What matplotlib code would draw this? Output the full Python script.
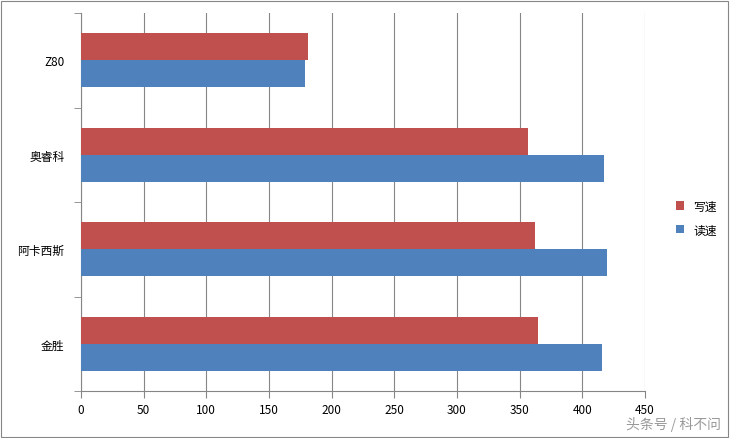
import numpy as np
import matplotlib.pyplot as plt
from matplotlib.patches import Rectangle

plt.rcParams['font.family'] = ['Noto Sans CJK SC', 'DejaVu Sans']

categories = ['金胜', '阿卡西斯', '奥睿科', 'Z80']
write_speed = [365, 362, 357, 181]
read_speed = [416, 420, 417, 179]

fig = plt.figure(figsize=(7.30, 4.39), dpi=100)
ax = fig.add_axes([81 / 730, 1 - 392 / 439, 564 / 730, 378 / 439])

y = np.arange(len(categories))
h = 0.285
ax.barh(y + h / 2, write_speed, height=h, color='#C0504D', label='写速', zorder=3)
ax.barh(y - h / 2, read_speed, height=h, color='#4F81BD', label='读速', zorder=3)

ax.set_xlim(0, 450)
ax.set_ylim(-0.5, len(categories) - 0.5)
ax.set_xticks(np.arange(0, 451, 50))
ax.set_yticks(y)
ax.set_yticklabels(categories)
ax.grid(axis='x', color='#868686', linewidth=0.8, zorder=0)
for s in ['top', 'right']:
    ax.spines[s].set_visible(False)
for s in ['left', 'bottom']:
    ax.spines[s].set_color('#868686')
ax.tick_params(axis='x', direction='out', length=5, color='#868686', labelsize=8.5)
ax.tick_params(axis='y', length=0, labelsize=8.5, pad=12)
ax.set_yticks(np.arange(-0.5, len(categories), 1), minor=True)
ax.tick_params(axis='y', which='minor', direction='out', length=5, color='#868686')

handles, labels = ax.get_legend_handles_labels()
fig.legend(handles, labels, loc='center left', bbox_to_anchor=(670 / 730, 1 - 219 / 439),
           frameon=False, fontsize=8.5, handlelength=0.7, handleheight=0.7, borderpad=0, labelspacing=0.9)

fig.patches.append(Rectangle((0.002, 0.003), 0.995, 0.993, transform=fig.transFigure,
                             fill=False, edgecolor='#868686', linewidth=0.8))
fig.text(0.988, 0.015, '头条号 / 科不问', ha='right', va='bottom', color='#999999', fontsize=10)

fig.savefig('out.png', dpi=100)
